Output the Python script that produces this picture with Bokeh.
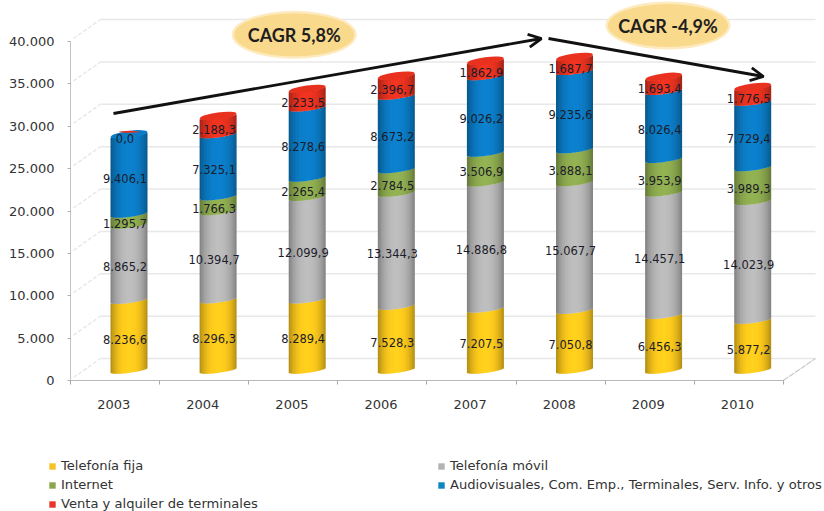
import math
from bokeh.plotting import figure
from bokeh.embed import file_html
from bokeh.resources import INLINE
from bokeh.core.properties import value
from bokeh.models import (Range1d, FixedTicker, Legend, LegendItem, Arrow, OpenHead)

years = ["2003", "2004", "2005", "2006", "2007", "2008", "2009", "2010"]
telefonia_fija = [8236.6, 8296.3, 8289.4, 7528.3, 7207.5, 7050.8, 6456.3, 5877.2]
telefonia_movil = [8865.2, 10394.7, 12099.9, 13344.3, 14886.8, 15067.7, 14457.1, 14023.9]
internet = [1295.7, 1766.3, 2265.4, 2784.5, 3506.9, 3888.1, 3953.9, 3989.3]
audiovisuales = [9406.1, 7325.1, 8278.6, 8673.2, 9026.2, 9235.6, 8026.4, 7729.4]
venta = [0.0, 2188.3, 2233.5, 2396.7, 1862.9, 1687.7, 1693.4, 1776.5]
y_ticks = [0, 5000, 10000, 15000, 20000, 25000, 30000, 35000, 40000]
y_tick_labels = ["0", "5.000", "10.000", "15.000", "20.000", "25.000", "30.000", "35.000", "40.000"]
series_names = ["Telefonía fija", "Telefonía móvil", "Internet",
                "Audiovisuales, Com. Emp., Terminales, Serv. Info. y otros",
                "Venta y alquiler de terminales"]
series_colors = ["#fbc81c", "#b6b6b6", "#8dab4f", "#0b7cc6", "#e8321f"]
legend_colors = ["#f6c324", "#b3b3b3", "#8aa64d", "#0e84c0", "#e8352c"]
cagr_labels = ["CAGR 5,8%", "CAGR -4,9%"]

W, H = 824, 511
LEFT, RIGHT, BOTTOM = 70, 816, 380
PX_PER_UNIT = 339 / 40000
PX_PER_CAT = 89.1
def dy(px): return px / PX_PER_UNIT
def dx(px): return px / PX_PER_CAT
def fmt(v):
    s = f"{v:,.1f}"
    return s.replace(",", "_").replace(".", ",").replace("_", ".")

p = figure(width=W, height=H, output_backend="svg", toolbar_location=None,
           x_range=Range1d(-LEFT / PX_PER_CAT, (W - LEFT) / PX_PER_CAT),
           y_range=Range1d(-(H - BOTTOM) / PX_PER_UNIT, BOTTOM / PX_PER_UNIT),
           min_border_left=0, min_border_right=0, min_border_top=0, min_border_bottom=0,
           background_fill_color="white", border_fill_color="white", outline_line_color=None)
p.grid.visible = False

ax = p.yaxis[0]
ax.fixed_location = 0
ax.ticker = FixedTicker(ticks=y_ticks)
ax.major_label_overrides = {t: l for t, l in zip(y_ticks, y_tick_labels)}
ax.bounds = (0, 40000)
ax.axis_line_color = "#c4c4c4"
ax.major_tick_line_color = "#b0b0b0"
ax.major_tick_out, ax.major_tick_in = 3, 0
ax.minor_tick_line_color = None
ax.major_label_standoff = 13
ax.major_label_text_font = "DejaVu Sans"
ax.major_label_text_font_size = "13px"
ax.major_label_text_color = "#333333"

bx = p.xaxis[0]
bx.fixed_location = 0
n = len(years)
centers = [i + 0.485 for i in range(n)]
bx.ticker = FixedTicker(ticks=centers, minor_ticks=list(range(n + 1)))
bx.major_label_overrides = {c: y for c, y in zip(centers, years)}
bx.bounds = (0, n)
bx.axis_line_color = "#b8b8b8"
bx.major_tick_line_color = None
bx.minor_tick_line_color = "#a8a8a8"
bx.minor_tick_out, bx.minor_tick_in = 4, 0
bx.major_tick_out, bx.major_tick_in = 0, 0
bx.major_label_standoff = 15
bx.major_label_text_font = "DejaVu Sans"
bx.major_label_text_font_size = "13px"
bx.major_label_text_color = "#333333"

dep_x, dep_y = dx(30), dy(22)
xmax = (RIGHT - 1 - LEFT) / PX_PER_CAT
p.segment(x0=[dep_x] * len(y_ticks), x1=[xmax] * len(y_ticks),
          y0=[t + dep_y for t in y_ticks], y1=[t + dep_y for t in y_ticks],
          line_color="#e8e8e8", line_width=1.5)
p.segment(x0=[dx(3)] * len(y_ticks), x1=[dep_x] * len(y_ticks),
          y0=[t + dy(3) for t in y_ticks], y1=[t + dep_y for t in y_ticks],
          line_color="#e8e8e8", line_width=1.5, line_dash="4 2")
p.segment(x0=[n], x1=[xmax], y0=[0], y1=[dep_y], line_color="#c8c8c8", line_width=1.2, line_dash="6 1")

BAR_W = dx(37)
OFFSET = 0.6566
BASE = dy(10.5)
ARC, SLANT = 2.8, 2.5
STRIPS = 25

def shade(col, u):
    r, g, b = (int(col[i:i + 2], 16) for i in (1, 3, 5))
    k = 1 - 0.30 * abs(u) ** 2.6 + 0.05 * (1 - abs(u))
    c = [min(255, int(v * k)) for v in (r, g, b)]
    return "#%02x%02x%02x" % tuple(c)

def edge(u):
    return dy(-ARC * math.sqrt(max(0, 1 - u * u)) + SLANT * u)

series = [telefonia_fija, telefonia_movil, internet, audiovisuales, venta]
lefts, rights, bots, tops, cols = [], [], [], [], []
for i in range(n):
    cx = i + OFFSET
    cum = BASE
    for vals, col in zip(series, series_colors):
        v = vals[i]
        if v > 0:
            for s in range(STRIPS):
                u = -1 + (2 * s + 1) / STRIPS
                lefts.append(cx - BAR_W / 2 + s * BAR_W / STRIPS)
                rights.append(cx - BAR_W / 2 + (s + 1.5) * BAR_W / STRIPS if s < STRIPS - 1 else cx + BAR_W / 2)
                bots.append(cum + edge(u))
                tops.append(cum + v + edge(u))
                cols.append(shade(col, u))
        cum += v
p.quad(left=lefts, right=rights, bottom=bots, top=tops, fill_color=cols, line_color=None)

cap_x, cap_y, cap_c = [], [], []
for i in range(n):
    cap_x.append(i + OFFSET)
    cap_y.append(BASE + sum(s[i] for s in series))
    cap_c.append(series_colors[4] if venta[i] > 0 else series_colors[3])
p.ellipse(x=cap_x, y=cap_y, width=37, height=7, width_units="screen", height_units="screen",
          angle=math.atan(SLANT / 18.5), fill_color=cap_c, line_color=None)
zero_x = [c for c, v in zip(cap_x, venta) if v == 0]
zero_y = [c for c, v in zip(cap_y, venta) if v == 0]
p.ellipse(x=zero_x, y=[v + dy(2.5) for v in zero_y], width=20, height=2, width_units="screen", height_units="screen",
          fill_color=series_colors[4], line_color=None)

lx, ly, lt = [], [], []
for i in range(n):
    cum = BASE
    for vals in series:
        lx.append(i + OFFSET)
        ly.append(cum + vals[i] / 2)
        lt.append(fmt(vals[i]))
        cum += vals[i]
p.text(x=lx, y=ly, text=lt, x_offset=-4, y_offset=4, text_align="center", text_baseline="middle",
       text_font=value("DejaVu Sans"), text_font_size="11.5px", text_color="#1c1c2a")

def ax_x(px): return (px - LEFT) / PX_PER_CAT
def ax_y(px): return dy(BOTTOM - px)

arrow_x = [ax_x(113), ax_x(541), ax_x(548), ax_x(763)]
arrow_y = [ax_y(113), ax_y(38), ax_y(38), ax_y(76)]
for a, b in ((0, 1), (2, 3)):
    p.add_layout(Arrow(end=OpenHead(size=13, line_width=2.8, line_color="#111111"),
                       x_start=arrow_x[a], y_start=arrow_y[a], x_end=arrow_x[b], y_end=arrow_y[b],
                       line_width=2.8, line_color="#111111"))

ov_x = [ax_x(293.7), ax_x(667.5)]
ov_y = [ax_y(34.3), ax_y(25)]
p.ellipse(x=ov_x, y=ov_y, width=125, height=48, width_units="screen", height_units="screen",
          fill_color="#fdeabf", line_color=None)
p.ellipse(x=ov_x, y=ov_y, width=120, height=43, width_units="screen", height_units="screen",
          fill_color="#f9d98c", line_color=None)
p.text(x=ov_x, y=ov_y, text=cagr_labels, text_align="center", text_baseline="middle",
       text_font=value("Lato"), text_font_style="bold", text_font_size="18px", text_color="#1e1e1e")

# legend keys: one off-range bar per series, only its legend swatch is visible
off_range = -100
proxies = [p.vbar(x=[off_range], top=[off_range], bottom=[off_range - 1], width=1, fill_color=c, line_color=None)
           for c in legend_colors]
def make_legend(idx, x_px, bottom_px):
    lg = Legend(items=[LegendItem(label=series_names[i], renderers=[proxies[i]]) for i in idx],
                location=(x_px, H - bottom_px), orientation="vertical",
                background_fill_alpha=0, border_line_color=None,
                padding=0, margin=0, spacing=4, glyph_width=8, glyph_height=8, label_standoff=5,
                label_height=14, label_text_font="DejaVu Sans", label_text_font_size="13.1px",
                label_text_color="#333333", label_text_baseline="middle")
    p.add_layout(lg, "center")
make_legend([0, 2, 4], 48, 511)
make_legend([1, 3], 437, 492)

open("out.html", "w").write(file_html(p, INLINE))
